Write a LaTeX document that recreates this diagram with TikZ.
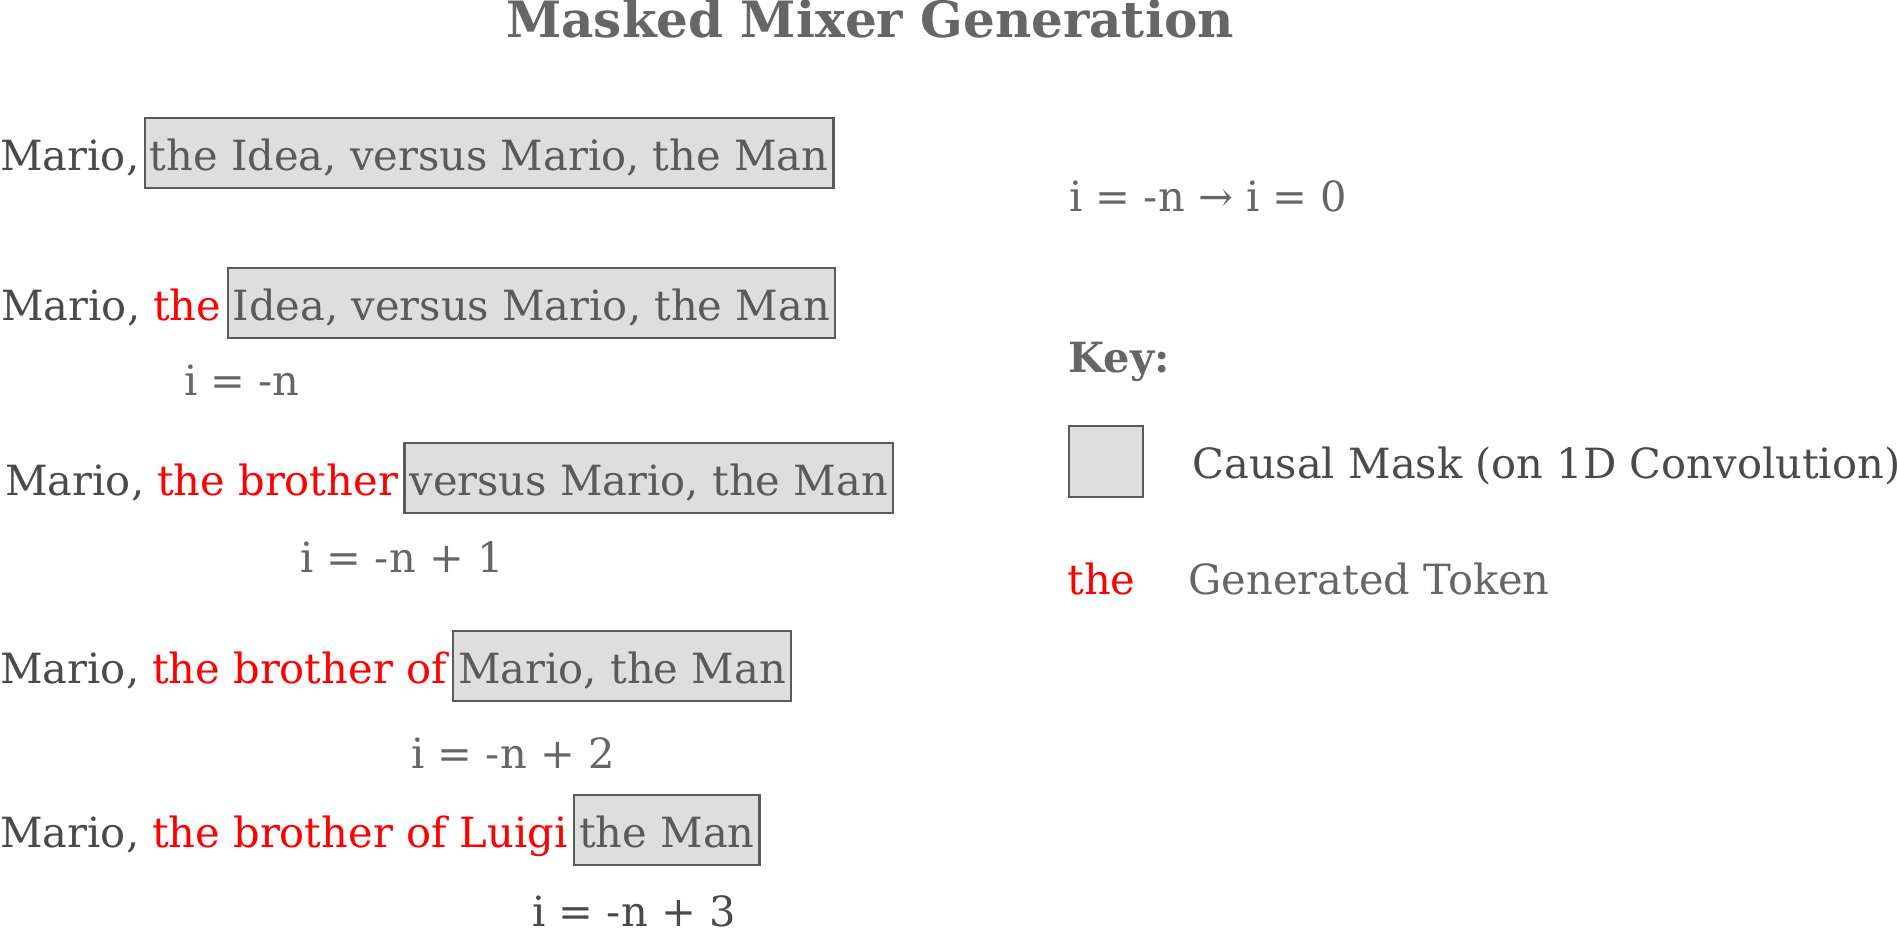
\documentclass[tikz,border=0pt]{standalone}
\usepackage{fontspec}
\setmainfont{DejaVu Serif}
\usepackage{tikz}
\usetikzlibrary{positioning}

\definecolor{darktext}{HTML}{4A4A4A}
\definecolor{midtext}{HTML}{5A5A5A}
\definecolor{lighttext}{HTML}{666666}
\definecolor{maskfill}{HTML}{DEDEDE}
\definecolor{maskline}{HTML}{5A5A5A}

\tikzset{
  word/.style={inner sep=0pt, anchor=base west, text=darktext},
  gentoken/.style={inner sep=0pt, text=red},
  maskbox/.style={draw=maskline, line width=1.2pt, fill=maskfill, text=midtext,
    inner xsep=2.5pt, inner ysep=5pt, text height=21pt, text depth=4pt},
  steplabel/.style={inner sep=0pt, anchor=base, text=lighttext},
  keybox/.style={draw=maskline, line width=0.6pt, fill=maskfill,
    minimum width=37pt, minimum height=35.5pt, inner sep=0pt}
}

\begin{document}
\begin{tikzpicture}[x=0.5pt, y=-0.5pt, font=\fontsize{20.8}{25}\selectfont]
\useasboundingbox (0,0) rectangle (1897,934);

\node[steplabel, text=lighttext, font=\fontsize{25}{30}\selectfont\bfseries] (title) at (870,37) {Masked Mixer Generation};

% step 0: nothing generated yet
\node[word] (mario1) at (0,170) {Mario,};
\node[maskbox, base right=2pt of mario1] (mask1) {the Idea, versus Mario, the Man};

\node[word] (mario2) at (1,320) {Mario,};
\node[gentoken, base right=6pt of mario2] (gen2) {the};
\node[maskbox, base right=2.5pt of gen2] (mask2) {Idea, versus Mario, the Man};
\node[steplabel] (step2) at (242,395) {i = -n};

\node[word] (mario3) at (5,495) {Mario,};
\node[gentoken, base right=6pt of mario3] (gen3) {the brother};
\node[maskbox, base right=2.5pt of gen3] (mask3) {versus Mario, the Man};
\node[steplabel] (step3) at (402,572) {i = -n + 1};

\node[word] (mario4) at (0,683) {Mario,};
\node[gentoken, base right=6pt of mario4] (gen4) {the brother of};
\node[maskbox, base right=2.5pt of gen4] (mask4) {Mario, the Man};
\node[steplabel] (step4) at (513,768) {i = -n + 2};

\node[word] (mario5) at (0,847) {Mario,};
\node[gentoken, base right=6pt of mario5] (gen5) {the brother of Luigi};
\node[maskbox, base right=2.5pt of gen5] (mask5) {the Man};
\node[steplabel, text=darktext] (step5) at (634,926) {i = -n + 3};

% key
\node[steplabel, anchor=base west] (range) at (1069,211) {i = -n → i = 0};
\node[steplabel, anchor=base west, font=\fontsize{20.8}{25}\selectfont\bfseries] (keyhead) at (1068,372) {Key:};
\node[keybox] (keymask) at (1106,461.5) {};
\node[word] (keymasktext) at (1192,478) {Causal Mask (on 1D Convolution)};
\node[gentoken, anchor=base west] (keygen) at (1067,594) {the};
\node[steplabel, anchor=base west] (keygentext) at (1188,594) {Generated Token};

\end{tikzpicture}
\end{document}
